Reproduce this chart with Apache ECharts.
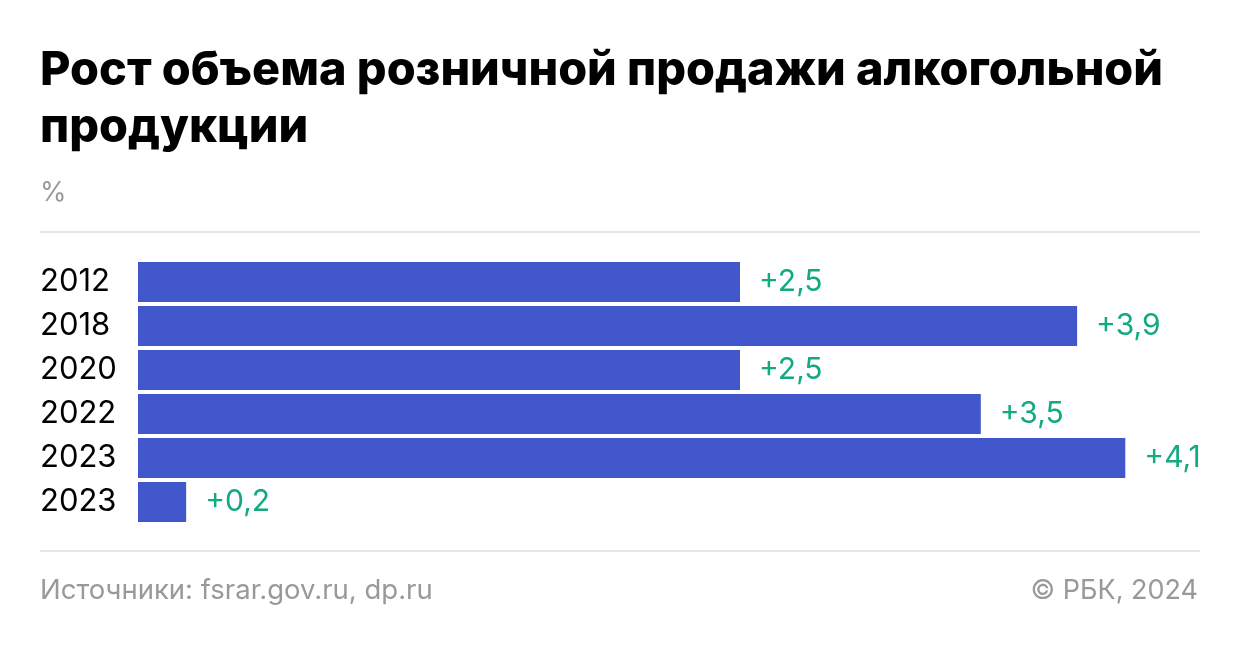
<!DOCTYPE html>
<html>
<head>
<meta charset="utf-8">
<script src="https://cdn.jsdelivr.net/npm/echarts@6/dist/echarts.min.js"></script>
<style>
  html, body { margin: 0; padding: 0; background: #fff; }
  #chart { width: 1240px; height: 648px; }
</style>
</head>
<body>
<div id="chart"></div>
<script>
// данные
const years = ['2012', '2018', '2020', '2022', '2023', '2023'];
const growth = [2.5, 3.9, 2.5, 3.5, 4.1, 0.2];

const titleText = 'Рост объема розничной продажи алкогольной\nпродукции';
const unitText = '%';
const sourceText = 'Источники: fsrar.gov.ru, dp.ru';
const copyrightText = '© РБК, 2024';

let myChart = echarts.init(document.getElementById('chart'));

myChart.setOption({
  backgroundColor: '#fff',
  textStyle: { fontFamily: 'Inter' },
  title: {
    text: titleText,
    left: 40,
    top: 42,
    padding: 0,
    textStyle: {
      fontFamily: 'Inter',
      fontSize: 46.8,
      fontWeight: 800,
      color: '#000',
      lineHeight: 57
    }
  },
  graphic: [
    {
      type: 'text', left: 40, top: 179,
      style: { text: unitText, fontFamily: 'Inter', fontSize: 27, fill: '#999' }
    },
    {
      type: 'line', shape: { x1: 40, y1: 232, x2: 1200, y2: 232 },
      style: { stroke: '#e5e5e5', lineWidth: 2 }
    },
    {
      type: 'line', shape: { x1: 40, y1: 551, x2: 1200, y2: 551 },
      style: { stroke: '#e5e5e5', lineWidth: 2 }
    },
    {
      type: 'text', left: 40, top: 577,
      style: { text: sourceText, fontFamily: 'Inter', fontSize: 27.5, fill: '#999' }
    },
    {
      type: 'text', right: 42, top: 577,
      style: { text: copyrightText, fontFamily: 'Inter', fontSize: 27, fill: '#999' }
    }
  ],
  grid: {
    left: 138,
    top: 260,
    height: 264,
    right: 18.4,
    containLabel: false
  },
  xAxis: {
    type: 'value',
    min: 0,
    max: 4.5,
    show: false
  },
  yAxis: {
    type: 'category',
    inverse: true,
    data: years,
    axisLine: { show: false },
    axisTick: { show: false },
    splitLine: { show: false },
    axisLabel: {
      align: 'left',
      margin: 98,
      fontFamily: 'Inter',
      fontSize: 31,
      color: '#000'
    }
  },
  series: [{
    type: 'bar',
    data: growth,
    barWidth: 40,
    itemStyle: { color: '#4157CB' },
    label: {
      show: true,
      position: 'right',
      distance: 19,
      fontFamily: 'Inter',
      fontSize: 30,
      color: '#13A981',
      formatter: function (p) {
        return '+' + p.value.toFixed(1).replace('.', ',');
      }
    },
    animation: false
  }],
  animation: false
});
</script>
</body>
</html>
